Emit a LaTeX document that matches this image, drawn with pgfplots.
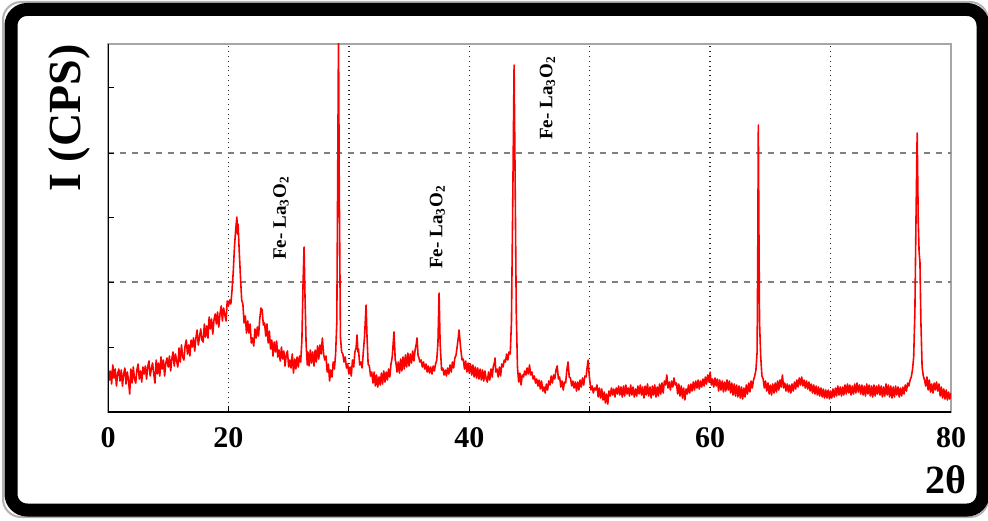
\documentclass[border=0pt]{standalone}
\usepackage{fontspec}
\setmainfont{Liberation Serif}
\usepackage{pgfplots}
\usepackage{pgfplotstable}
\pgfplotsset{compat=1.18}

% intensity (arbitrary units, 1 unit = 1 px of the original)
\pgfplotstableread{
x y
10.0 46
10.1 32
10.2 41
10.3 28
10.4 47
10.5 34
10.6 43
10.7 26
10.8 38
10.9 43
11.0 31
11.1 42
11.2 26
11.3 38
11.4 44
11.5 28
11.6 40
11.7 32
11.8 18
11.9 43
12.0 29
12.1 45
12.2 33
12.3 29
12.4 42
12.5 48
12.6 33
12.7 41
12.8 30
12.9 45
13.0 38
13.1 46
13.2 33
13.3 45
13.4 51
13.5 36
13.6 43
13.7 49
13.8 38
13.9 29
14.0 52
14.1 38
14.2 49
14.3 36
14.4 55
14.5 43
14.6 52
14.7 36
14.8 49
14.9 54
15.0 45
15.1 56
15.2 41
15.3 53
15.4 60
15.5 46
15.6 58
15.7 51
15.8 45
15.9 64
16.0 50
16.1 67
16.2 55
16.3 52
16.4 66
16.5 72
16.6 58
16.7 67
16.8 56
16.9 72
17.0 65
17.1 74
17.2 61
17.3 74
17.4 82
17.5 67
17.6 75
17.7 83
17.8 72
17.9 70
18.0 88
18.1 75
18.2 86
18.3 74
18.4 95
18.5 83
18.6 93
18.7 78
18.8 92
18.9 98
19.0 88
19.1 100
19.2 85
19.3 98
19.4 106
19.5 91
19.6 104
19.7 97
19.8 91
19.9 111
20.0 106
20.1 112
20.2 108
20.3 122
20.4 140
20.5 165
20.6 182
20.7 195
20.75 178
20.8 188
20.9 160
21.0 135
21.1 112
21.2 108
21.3 89
21.4 96
21.5 79
21.6 91
21.7 79
21.8 88
21.9 69
22.0 74
22.1 66
22.2 83
22.3 74
22.4 85
22.5 76
22.6 93
22.7 104
22.8 102
22.9 87
23.0 89
23.1 76
23.2 88
23.3 69
23.4 81
23.5 63
23.6 72
23.7 56
23.8 70
23.9 60
24.0 71
24.1 55
24.2 62
24.3 51
24.4 65
24.5 53
24.6 61
24.7 46
24.8 57
24.9 61
25.0 45
25.1 52
25.2 44
25.3 58
25.4 39
25.5 53
25.6 43
25.7 55
25.8 45
25.9 56
26.0 50
26.1 72
26.2 130
26.28 165
26.35 120
26.45 68
26.55 47
26.6 60
26.7 46
26.8 62
26.9 49
27.0 60
27.1 46
27.2 62
27.3 50
27.4 66
27.5 53
27.6 67
27.7 58
27.8 74
27.9 58
28.0 52
28.1 56
28.2 40
28.3 48
28.4 31
28.5 42
28.6 35
28.7 50
28.8 43
28.9 58
29.0 90
29.08 250
29.14 380
29.2 230
29.3 75
29.4 60
29.5 58
29.6 50
29.7 55
29.8 44
29.9 48
30.0 38
30.1 45
30.2 36
30.3 52
30.4 45
30.5 60
30.6 64
30.68 77
30.75 60
30.8 63
30.9 47
31.0 50
31.1 44
31.2 60
31.3 75
31.43 107
31.5 78
31.6 48
31.7 46
31.8 36
31.9 40
32.0 29
32.1 40
32.2 26
32.3 37
32.4 25
32.5 35
32.6 27
32.7 39
32.8 28
32.9 41
33.0 30
33.1 40
33.2 32
33.3 43
33.4 35
33.5 48
33.6 55
33.7 72
33.75 80
33.85 52
33.9 50
34.0 40
34.1 50
34.2 39
34.3 53
34.4 41
34.5 55
34.6 43
34.7 57
34.8 45
34.9 59
35.0 46
35.1 58
35.2 49
35.3 61
35.4 51
35.5 62
35.6 68
35.66 74
35.75 56
35.8 55
35.9 50
36.0 52
36.1 45
36.2 50
36.3 43
36.4 48
36.5 40
36.6 46
36.7 39
36.8 45
36.9 38
37.0 46
37.1 41
37.2 48
37.3 52
37.4 70
37.49 119
37.58 68
37.7 42
37.8 44
37.9 37
38.0 42
38.1 36
38.2 44
38.3 38
38.4 47
38.5 40
38.6 50
38.7 44
38.8 54
38.9 57
39.0 66
39.1 76
39.15 82
39.25 68
39.3 62
39.4 52
39.5 53
39.6 43
39.7 51
39.8 40
39.9 49
40.0 39
40.1 48
40.2 37
40.3 47
40.4 35
40.5 45
40.6 34
40.7 44
40.8 33
40.9 43
41.0 32
41.1 42
41.2 31
41.3 41
41.4 33
41.5 30
41.6 40
41.7 32
41.8 43
41.9 35
42.0 46
42.1 50
42.14 54
42.2 40
42.3 43
42.4 35
42.5 45
42.6 36
42.7 48
42.8 45
42.9 52
43.0 50
43.1 58
43.2 52
43.3 60
43.4 58
43.5 90
43.6 200
43.72 347
43.8 240
43.9 100
44.0 45
44.1 30
44.2 39
44.3 27
44.4 37
44.5 35
44.6 41
44.7 37
44.8 44
44.9 38
45.0 47
45.1 37
45.2 40
45.3 33
45.4 36
45.5 29
45.6 33
45.7 26
45.8 32
45.9 23
46.0 31
46.1 21
46.2 25
46.3 19
46.4 28
46.5 22
46.6 31
46.7 27
46.8 36
46.9 29
47.0 37
47.1 33
47.2 42
47.3 46
47.4 33
47.5 35
47.6 25
47.7 31
47.8 22
47.9 30
48.0 29
48.1 42
48.2 50
48.3 35
48.4 34
48.5 26
48.6 31
48.7 24
48.8 30
48.9 21
49.0 30
49.1 22
49.2 32
49.3 25
49.4 34
49.5 27
49.6 36
49.7 35
49.8 46
49.87 52
49.95 38
50.0 32
50.1 22
50.2 26
50.3 19
50.4 24
50.5 22
50.6 27
50.7 15
50.8 24
50.9 14
51.0 23
51.1 12
51.2 20
51.3 9
51.4 18
51.5 8
51.6 21
51.7 16
51.8 24
51.9 17
52.0 23
52.1 15
52.2 24
52.3 18
52.4 26
52.5 17
52.6 25
52.7 15
52.8 26
52.9 16
53.0 27
53.1 18
53.2 24
53.3 16
53.4 27
53.5 17
53.6 25
53.7 15
53.8 23
53.9 16
54.0 26
54.1 18
54.2 27
54.3 17
54.4 25
54.5 14
54.6 26
54.7 17
54.8 28
54.9 16
55.0 25
55.1 14
55.2 26
55.3 17
55.4 27
55.5 15
55.6 25
55.7 16
55.8 28
55.9 18
56.0 29
56.1 19
56.2 31
56.3 27
56.4 37
56.5 24
56.6 30
56.7 22
56.8 31
56.9 25
57.0 34
57.1 27
57.2 29
57.3 18
57.4 28
57.5 16
57.6 26
57.7 14
57.8 24
57.9 12
58.0 23
58.1 18
58.2 27
58.3 19
58.4 28
58.5 21
58.6 30
58.7 22
58.8 31
58.9 24
59.0 32
59.1 23
59.2 31
59.3 25
59.4 33
59.5 26
59.6 35
59.7 28
59.8 37
59.9 30
60.0 40
60.1 27
60.2 33
60.3 25
60.4 34
60.5 26
60.6 33
60.7 21
60.8 32
60.9 22
61.0 31
61.1 20
61.2 30
61.3 21
61.4 32
61.5 22
61.6 31
61.7 19
61.8 29
61.9 17
62.0 28
62.1 16
62.2 27
62.3 15
62.4 26
62.5 14
62.6 25
62.7 13
62.8 24
62.9 15
63.0 27
63.1 18
63.2 29
63.3 20
63.4 31
63.5 24
63.6 32
63.7 36
63.8 42
63.9 60
63.95 150
64.0 287
64.05 180
64.1 90
64.2 55
64.3 36
64.4 33
64.5 24
64.6 31
64.7 21
64.8 29
64.9 18
65.0 27
65.1 17
65.2 28
65.3 19
65.4 29
65.5 20
65.6 31
65.7 22
65.8 32
65.9 25
66.0 37
66.1 24
66.2 29
66.3 21
66.4 28
66.5 20
66.6 27
66.7 19
66.8 28
66.9 21
67.0 30
67.1 23
67.2 32
67.3 25
67.4 34
67.5 27
67.6 35
67.7 26
67.8 32
67.9 24
68.0 31
68.1 23
68.2 30
68.3 21
68.4 28
68.5 19
68.6 27
68.7 18
68.8 26
68.9 17
69.0 25
69.1 16
69.2 24
69.3 15
69.4 23
69.5 14
69.6 22
69.7 14
69.8 22
69.9 13
70.0 21
70.1 14
70.2 23
70.3 15
70.4 24
70.5 16
70.6 26
70.7 17
70.8 25
70.9 16
71.0 25
71.1 17
71.2 27
71.3 18
71.4 28
71.5 19
71.6 27
71.7 17
71.8 26
71.9 18
72.0 28
72.1 19
72.2 29
72.3 20
72.4 27
72.5 18
72.6 27
72.7 17
72.8 26
72.9 16
73.0 28
73.1 18
73.2 27
73.3 16
73.4 26
73.5 15
73.6 27
73.7 16
73.8 26
73.9 18
74.0 27
74.1 17
74.2 26
74.3 15
74.4 25
74.5 16
74.6 28
74.7 17
74.8 27
74.9 15
75.0 26
75.1 14
75.2 25
75.3 15
75.4 26
75.5 17
75.6 25
75.7 15
75.8 24
75.9 16
76.0 25
76.1 18
76.2 27
76.3 21
76.4 29
76.5 26
76.6 32
76.7 35
76.8 42
76.9 55
77.0 100
77.1 200
77.19 279
77.28 190
77.35 160
77.42 150
77.5 90
77.6 45
77.7 36
77.8 32
77.9 26
78.0 35
78.1 22
78.2 32
78.3 20
78.4 28
78.5 19
78.6 29
78.7 22
78.8 30
78.9 21
79.0 28
79.1 16
79.2 25
79.3 14
79.4 23
79.5 13
79.6 22
79.7 12
79.8 20
79.9 13
80.0 19
}\xrd

\begin{document}
\begin{tikzpicture}[x=0.5pt,y=0.5pt]
\path[use as bounding box] (0,0) rectangle (988,520);

\begin{axis}[
  name=ax,
  at={(54pt,54pt)}, anchor=south west,
  scale only axis,
  width=421.5pt, height=184pt,
  xmin=10, xmax=80,
  ymin=0, ymax=368,
  axis line style={gray!70, line width=0.6pt},
  tick style={black, line width=0.4pt},
  tick align=inside,
  major tick length=3pt,
  minor tick length=1.8pt,
  xtick={10,20,40,60,80},
  xticklabels={0,20,40,60,80},
  minor x tick num=9,
  xticklabel style={font=\fontsize{15}{15}\selectfont\bfseries, yshift=-4pt},
  ytick={65,195,325},
  yticklabels={},
  extra x ticks={20,30,40,50,60,70},
  extra x tick labels={},
  extra x tick style={grid=major, major grid style={black!85, dotted, line width=0.7pt}},
  extra y ticks={130,259},
  extra y tick labels={},
  extra y tick style={grid=major, major grid style={gray, dashed, line width=0.6pt}},
  xtick pos=bottom, ytick pos=left,
]
\addplot[red, line width=0.8pt, line join=round] table {\xrd};
\draw[black, line width=0.7pt] (rel axis cs:0,1) -- (rel axis cs:0,0) -- (rel axis cs:1,0);
\node[rotate=90, font=\fontsize{9.5}{9.5}\selectfont\bfseries] at (axis cs:24.37,194) {Fe- La\textsubscript{3}O\textsubscript{2}};
\node[rotate=90, font=\fontsize{9.5}{9.5}\selectfont\bfseries] at (axis cs:37.35,185) {Fe- La\textsubscript{3}O\textsubscript{2}};
\node[rotate=90, font=\fontsize{9.5}{9.5}\selectfont\bfseries] at (axis cs:46.5,314) {Fe- La\textsubscript{3}O\textsubscript{2}};
\end{axis}

\node[rotate=90, font=\fontsize{23}{23}\selectfont\bfseries] at (69,402) {I (CPS)};
\node[anchor=east, font=\fontsize{20}{20}\selectfont\bfseries] at (973,40) {2θ};

\draw[gray!60, line width=1pt, rounded corners=9pt] (3,3) rectangle (988,518);
\draw[black, line width=6.5pt, rounded corners=8pt] (11,10) rectangle (983,510.5);
\end{tikzpicture}
\end{document}
